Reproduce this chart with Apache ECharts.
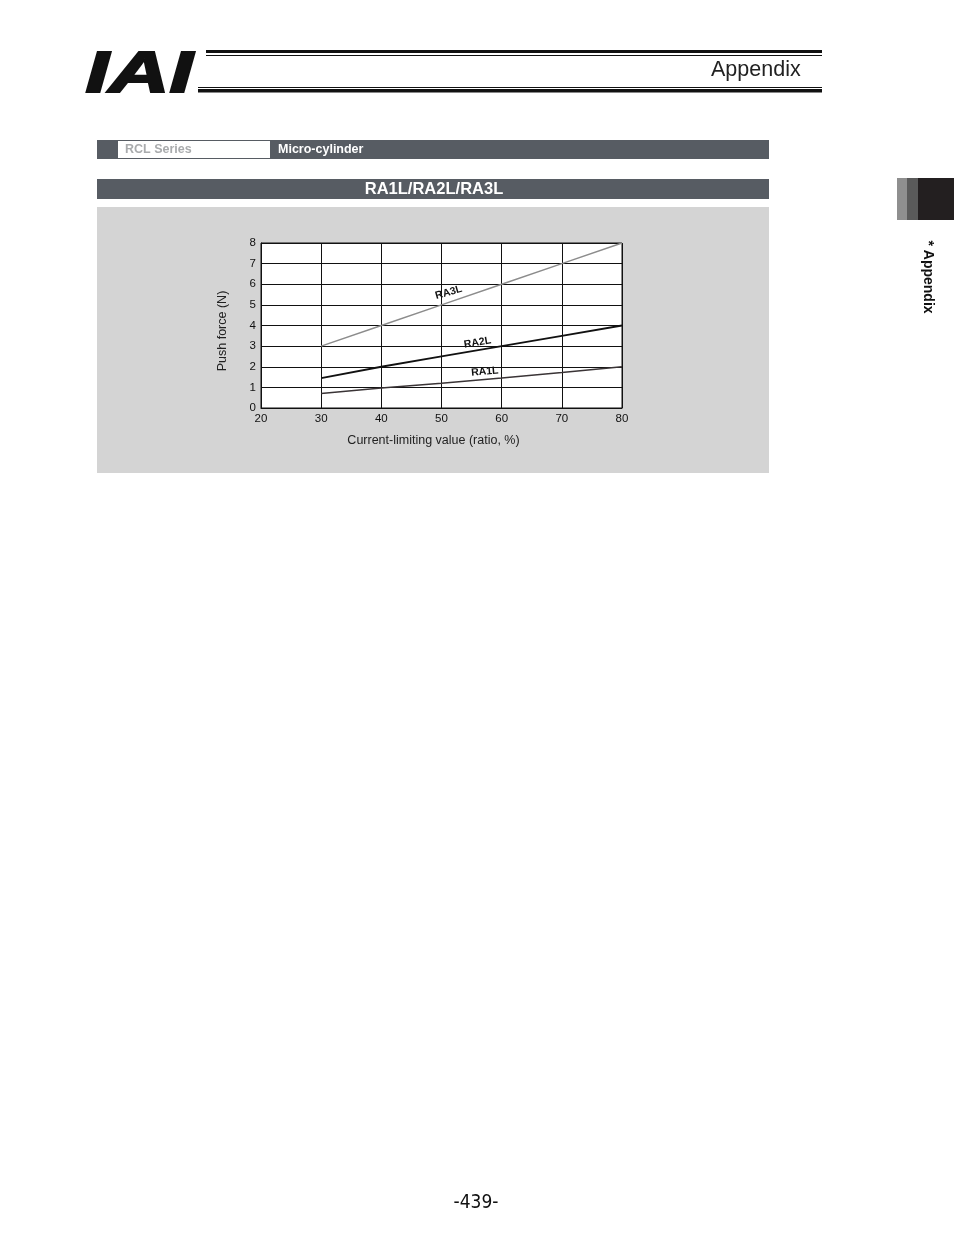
<!DOCTYPE html>
<html>
<head>
<meta charset="utf-8">
<script src="https://cdn.jsdelivr.net/npm/echarts@6/dist/echarts.min.js"></script>
<style>
html,body{margin:0;padding:0;background:#fff;}
#main{width:954px;height:1235px;}
</style>
</head>
<body>
<div id="main"></div>
<script>
// ---- data ----
const xTicks = [20, 30, 40, 50, 60, 70, 80];
const yTicks = [0, 1, 2, 3, 4, 5, 6, 7, 8];
const seriesNames = ['RA1L', 'RA2L', 'RA3L'];
const xValues = [30, 40, 50, 60, 70, 80];
const ra1l = [0.7, 0.97, 1.2, 1.45, 1.72, 2.0];
const ra2l = [1.45, 2.0, 2.5, 3.0, 3.5, 4.0];
const ra3l = [3.0, 4.0, 5.0, 6.0, 7.0, 8.0];
// label anchor positions (data units) and rotation along line
const labelPos = { RA1L: [57.2, 1.76], RA2L: [56.0, 3.17], RA3L: [51.2, 5.6] };
const labelRot = { RA1L: 5, RA2L: 10, RA3L: 16 };

const chart = echarts.init(document.getElementById('main'), null, { renderer: 'canvas' });
const font = '"Liberation Sans", Arial, sans-serif';

function pairs(ys) { return xValues.map((x, i) => [x, ys[i]]); }
function lineSeries(name, ys, color, width) {
  return {
    name: name, type: 'line', data: pairs(ys), symbol: 'none', silent: true,
    lineStyle: { color: color, width: width }, z: 5,
    markPoint: {
      symbol: 'circle', symbolSize: 0, silent: true,
      data: [{ coord: labelPos[name], label: {
        show: true, formatter: name, color: '#111', fontFamily: font, fontWeight: 'bold',
        fontSize: 10.5, rotate: labelRot[name], position: 'inside'
      } }]
    }
  };
}

const option = {
  backgroundColor: '#ffffff',
  animation: false,
  graphic: [
    // logo
    { type: 'text', left: 84, top: 46, style: { text: 'IAI', font: 'italic bold 58px ' + font, fill: '#111', stroke: '#111', lineWidth: 2 }, scaleX: 1.45 },
    // header lines
    { type: 'rect', shape: { x: 206, y: 50, width: 616, height: 3 }, style: { fill: '#111' } },
    { type: 'rect', shape: { x: 206, y: 55, width: 616, height: 1 }, style: { fill: '#111' } },
    { type: 'rect', shape: { x: 198, y: 87, width: 624, height: 1 }, style: { fill: '#111' } },
    { type: 'rect', shape: { x: 198, y: 89, width: 624, height: 3.5 }, style: { fill: '#111' } },
    { type: 'text', left: 711, top: 59, style: { text: 'Appendix', font: '21.5px ' + font, fill: '#222' } },
    // section bars
    { type: 'rect', shape: { x: 97, y: 140, width: 672, height: 19 }, style: { fill: '#575c63' } },
    { type: 'rect', shape: { x: 118, y: 141, width: 152, height: 17 }, style: { fill: '#ffffff' } },
    { type: 'text', x: 125, y: 149.5, style: { text: 'RCL Series', font: 'bold 12.5px ' + font, fill: '#a9abad', verticalAlign: 'middle' } },
    { type: 'text', x: 278, y: 149.5, style: { text: 'Micro-cylinder', font: 'bold 12.5px ' + font, fill: '#ffffff', verticalAlign: 'middle' } },
    { type: 'rect', shape: { x: 97, y: 179, width: 672, height: 20 }, style: { fill: '#575c63' } },
    { type: 'text', x: 434, y: 189.5, style: { text: 'RA1L/RA2L/RA3L', font: 'bold 16.5px ' + font, fill: '#ffffff', align: 'center', verticalAlign: 'middle' } },
    // panel
    { type: 'rect', shape: { x: 97, y: 207, width: 672, height: 266 }, style: { fill: '#d4d4d4' }, z: -10 },
    // side tab
    { type: 'rect', shape: { x: 897, y: 178, width: 10, height: 42 }, style: { fill: '#8f8f8f' } },
    { type: 'rect', shape: { x: 907, y: 178, width: 11, height: 42 }, style: { fill: '#5a5a5a' } },
    { type: 'rect', shape: { x: 918, y: 178, width: 36, height: 42 }, style: { fill: '#231f20' } },
    { type: 'text', x: 928, y: 277, rotation: -Math.PI / 2, style: { text: '* Appendix', font: 'bold 14px ' + font, fill: '#111', align: 'center', verticalAlign: 'middle' } },
    // axis titles
    { type: 'text', x: 433.5, y: 440.5, style: { text: 'Current-limiting value (ratio, %)', font: '12.5px ' + font, fill: '#222', align: 'center', verticalAlign: 'middle' }, z: 10 },
    { type: 'text', x: 223, y: 331, rotation: Math.PI / 2, style: { text: 'Push force (N)', font: '12.5px ' + font, fill: '#222', align: 'center', verticalAlign: 'middle' }, z: 10 },
    // page number
    { type: 'text', x: 476, y: 1203, style: { text: '-439-', font: '19px "DejaVu Sans Condensed", "Liberation Sans Narrow", sans-serif', fill: '#111', align: 'center', verticalAlign: 'middle' } }
  ],
  grid: { left: 261, top: 243, width: 361, height: 165, show: true, backgroundColor: '#ffffff', borderColor: '#111', borderWidth: 1 },
  xAxis: {
    type: 'value', min: xTicks[0], max: xTicks[xTicks.length - 1], interval: 10,
    axisLine: { show: true, lineStyle: { color: '#111', width: 1 } },
    axisTick: { show: false },
    axisLabel: { fontFamily: font, fontSize: 11.5, color: '#111', margin: 5 },
    splitLine: { show: true, lineStyle: { color: '#111', width: 1 } }
  },
  yAxis: {
    type: 'value', min: yTicks[0], max: yTicks[yTicks.length - 1], interval: 1,
    axisLine: { show: true, lineStyle: { color: '#111', width: 1 } },
    axisTick: { show: false },
    axisLabel: { fontFamily: font, fontSize: 11.5, color: '#111', margin: 5 },
    splitLine: { show: true, lineStyle: { color: '#111', width: 1 } }
  },
  series: [
    lineSeries('RA1L', ra1l, '#3a3436', 1.5),
    lineSeries('RA2L', ra2l, '#111111', 1.8),
    lineSeries('RA3L', ra3l, '#8c8c8c', 1.5)
  ]
};
chart.setOption(option);
</script>
</body>
</html>
